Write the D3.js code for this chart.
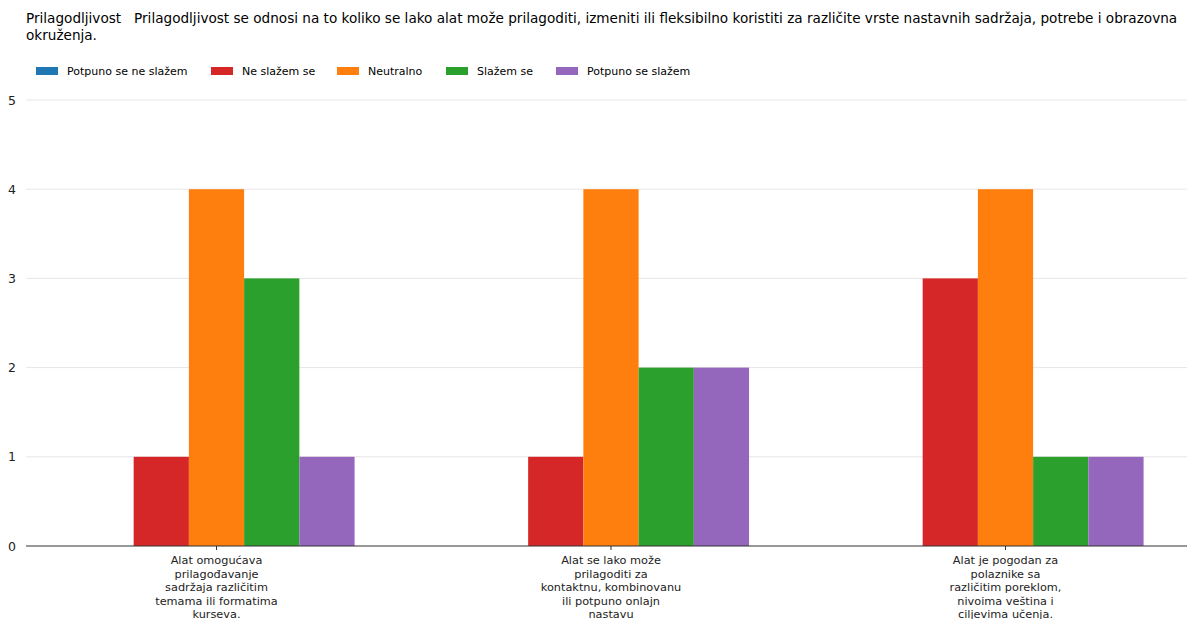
<!DOCTYPE html>
<html><head><meta charset="utf-8">
<script src="https://cdn.jsdelivr.net/npm/d3@7"></script>
<style>body{margin:0;background:#fff}svg{display:block;font-family:"DejaVu Sans",sans-serif}text{white-space:pre}</style>
</head><body><svg id="c" width="1187" height="619"></svg>
<script>
const titleLines = ["Prilagodljivost   Prilagodljivost se odnosi na to koliko se lako alat može prilagoditi, izmeniti ili fleksibilno koristiti za različite vrste nastavnih sadržaja, potrebe i obrazovna", "okruženja."];
const seriesNames = ["Potpuno se ne slažem", "Ne slažem se", "Neutralno", "Slažem se", "Potpuno se slažem"];
const colors = ["#1f77b4", "#d62728", "#ff7f0e", "#2ca02c", "#9467bd"];
const categories = [
  ["Alat omogućava", "prilagođavanje", "sadržaja različitim", "temama ili formatima", "kurseva."],
  ["Alat se lako može", "prilagoditi za", "kontaktnu, kombinovanu", "ili potpuno onlajn", "nastavu"],
  ["Alat je pogodan za", "polaznike sa", "različitim poreklom,", "nivoima veština i", "ciljevima učenja."]
];
const potpunoNe = [0, 0, 0];
const neSlazem = [1, 1, 3];
const neutralno = [4, 4, 4];
const slazem = [3, 2, 1];
const potpunoDa = [1, 2, 1];
const yTicks = [0, 1, 2, 3, 4, 5];

const series = [potpunoNe, neSlazem, neutralno, slazem, potpunoDa];
const svg = d3.select("#c");
const x = d3.scaleLinear().domain([0, 2]).range([216.5, 1005.5]);
const y = d3.scaleLinear().domain([0, 5]).range([546, 100]);
const groupW = 0.7, barW = groupW / series.length;
const xLeft = 26, xRight = 1187;

// title
svg.append("g").selectAll("text").data(titleLines).join("text")
  .attr("x", 26).attr("y", (d, i) => 23 + i * 17)
  .attr("font-size", 13.6).attr("fill", "#000").text(d => d);

// legend
const legX = [36, 211, 337, 446, 556];
const leg = svg.append("g").selectAll("g").data(seriesNames).join("g")
  .attr("transform", (d, i) => `translate(${legX[i]},67)`);
leg.append("rect").attr("width", 22).attr("height", 8).attr("fill", (d, i) => colors[i]);
leg.append("text").attr("x", 31).attr("y", 8).attr("font-size", 11).attr("fill", "#000").text(d => d);

// grid
svg.append("g").selectAll("line").data(yTicks.filter(t => t > 0)).join("line")
  .attr("x1", xLeft).attr("x2", xRight).attr("y1", d => y(d)).attr("y2", d => y(d))
  .attr("stroke", "#e6e6e6").attr("stroke-width", 1);

// y labels
svg.append("g").selectAll("text").data(yTicks).join("text")
  .attr("x", 16).attr("y", d => y(d) + 4.5).attr("text-anchor", "end")
  .attr("font-size", 12.5).attr("fill", "#222").text(d => d);

// bars
series.forEach((vals, si) => {
  svg.append("g").selectAll("rect").data(vals).join("rect")
    .attr("x", (d, i) => x(i - groupW / 2 + si * barW))
    .attr("width", x(barW) - x(0))
    .attr("y", d => y(d)).attr("height", d => y(0) - y(d))
    .attr("fill", colors[si]);
});

// x axis
svg.append("line").attr("x1", xLeft).attr("x2", xRight).attr("y1", y(0)).attr("y2", y(0))
  .attr("stroke", "#333").attr("stroke-width", 1);
const xt = svg.append("g").selectAll("g").data(categories).join("g")
  .attr("transform", (d, i) => `translate(${x(i)},${y(0)})`);
xt.append("line").attr("y1", 0).attr("y2", 4).attr("stroke", "#333");
xt.append("text").attr("text-anchor", "middle").attr("font-size", 11.3).attr("fill", "#222")
  .selectAll("tspan").data(d => d).join("tspan")
  .attr("x", 0).attr("y", (d, i) => 18 + i * 13.5).text(d => d);
</script></body></html>
